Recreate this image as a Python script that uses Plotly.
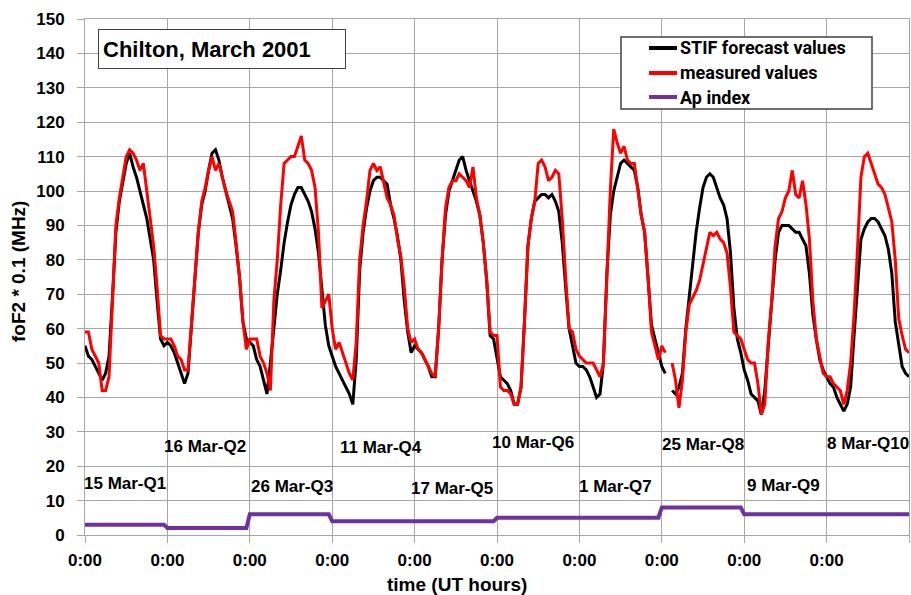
import plotly.graph_objects as go

# ---------------- data ----------------
day_labels = ["15 Mar-Q1", "16 Mar-Q2", "26 Mar-Q3", "11 Mar-Q4", "17 Mar-Q5",
              "10 Mar-Q6", "1 Mar-Q7", "25 Mar-Q8", "9 Mar-Q9", "8 Mar-Q10"]

stif_forecast = [
    55, 52, 51, 49, 47, 45, 47, 52, 69, 88, 97, 103, 108, 111, 107, 104, 100, 96, 92, 86, 80, 68, 57, 55,
    56, 55, 53, 50, 47, 44, 47, 60, 75, 88, 96, 100, 106, 111, 112, 109, 104, 100, 96, 92, 84, 75, 62, 57,
    56, 55, 51, 49, 45, 41, 50, 60, 70, 77, 85, 91, 96, 99, 101, 101, 99, 97, 94, 89, 82, 71, 61, 55,
    52, 49, 47, 45, 43, 41, 38, 51, 77, 88, 95, 100, 103, 104, 104, 103, 102, 96, 92, 87, 80, 68, 59, 53,
    55, 54, 53, 51, 49, 46, 46, 60, 80, 93, 100, 103, 106, 109, 110, 106, 103, 100, 97, 93, 85, 74, 58, 57,
    51, 46, 45, 44, 42, 38, 38, 43, 62, 84, 92, 97, 98, 99, 99, 98, 99, 97, 94, 85, 72, 60, 55, 50,
    49, 49, 48, 46, 43, 40, 41, 50, 76, 93, 100, 104, 108, 109, 108, 107, 106, 101, 93, 88, 75, 61, 57, 53,
    49, 47, None, 42, 41, 43, 47, 60, 69, 79, 88, 95, 101, 104, 105, 104, 101, 98, 96, 92, 82, 66, 57, 53,
    48, 45, 41, 40, 39, 35, 42, 55, 67, 80, 88, 90, 90, 90, 89, 88, 88, 86, 84, 76, 64, 57, 51, 48,
    46, 44, 43, 40, 38, 36, 38, 43, 58, 73, 86, 89, 91, 92, 92, 91, 89, 87, 83, 76, 62, 55, 49, 47,
    46,
]

measured = [
    59, 59, 54, 52, 50, 42, 42, 46, 69, 90, 98, 104, 110, 112, 111, 109, 106, 108, 100, 92, 84, 72, 58, 57,
    57, 57, 55, 52, 51, 48, 48, 62, 75, 88, 97, 101, 106, 110, 106, 108, 104, 100, 97, 94, 85, 75, 62, 54,
    57, 57, 57, 52, 50, 47, 42, 68, 80, 96, 108, 109, 110, 110, 113, 116, 109, 108, 106, 101, 88, 66, 68, 70,
    60, 54, 56, 53, 50, 47, 45, 56, 80, 90, 97, 106, 108, 106, 107, 102, 98, 96, 93, 86, 81, 72, 60, 56,
    57, 54, 53, 51, 49, 47, 46, 60, 80, 95, 101, 103, 103, 105, 104, 103, 101, 107, 98, 93, 85, 74, 59, 58,
    58, 43, 42, 42, 41, 38, 38, 43, 62, 84, 92, 97, 108, 109, 107, 103, 104, 106, 105, 92, 75, 60, 59, 54,
    52, 51, 50, 50, 50, 48, 46, 50, 76, 100, 118, 114, 111, 113, 109, 108, 108, 100, 93, 88, 75, 59, 55, 51,
    55, 53, None, 50, 45, 37, 45, 59, 67, 69, 71, 74, 79, 83, 88, 87, 88, 86, 85, 82, 72, 59, 58, 57,
    54, 51, 50, 50, 44, 35, 38, 56, 68, 84, 92, 94, 98, 100, 106, 99, 98, 103, 96, 86, 68, 57, 52, 47,
    46, 46, 44, 43, 42, 38, 42, 50, 64, 83, 104, 110, 111, 108, 105, 102, 101, 99, 95, 91, 80, 63, 58, 54,
    53,
]

ap_daily = [3, 2, 6, 4, 4, 5, 5, 8, 6, 6]

hours = list(range(len(stif_forecast)))           # UT hours, 0 .. 240
ap_index = [ap_daily[min(h // 24, len(ap_daily) - 1)] for h in hours]

tick_vals = list(range(0, 241, 24))
tick_text = ["0:00"] * 10 + [""]

series_names = ["STIF forecast values", "measured values", "Ap index"]
series_colors = ["#000000", "#ff0000", "#7030a0"]

# label anchor positions (hours, value units)
label_x = [0.0, 22.4, 47.8, 73.7, 94.4, 118, 143.3, 167.5, 192.2, 215.5]
label_y = [15.1, 25.6, 14.0, 25.3, 13.6, 27.0, 14.0, 26.2, 14.5, 26.7]

# ---------------- figure ----------------
W, H = 911, 595
ML, MR, MT, MB = 85, 2, 19, 60
PW = W - ML - MR
PH = H - MT - MB

def px_x(x):
    return (x - ML) / PW

def px_y(y):
    return (H - MB - y) / PH

FONT = "Liberation Sans, Arial, sans-serif"
LEGFONT = "Roboto, Lato, sans-serif"
GRID = "#a6a6a6"

fig = go.Figure()
fig.add_trace(go.Scatter(x=hours, y=stif_forecast, mode="lines", name=series_names[0],
                         line=dict(color=series_colors[0], width=3), connectgaps=False,
                         showlegend=False))
fig.add_trace(go.Scatter(x=hours, y=measured, mode="lines", name=series_names[1],
                         line=dict(color=series_colors[1], width=3), connectgaps=False,
                         showlegend=False))
fig.add_trace(go.Scatter(x=hours, y=ap_index, mode="lines", name=series_names[2],
                         line=dict(color=series_colors[2], width=4), showlegend=False))

annotations = []
shapes = []
for i, (t, x, y) in enumerate(zip(day_labels, label_x, label_y)):
    annotations.append(dict(x=x, y=y, xref="x", yref="y", text="<b>" + t + "</b>",
                            showarrow=False, xanchor="left", yanchor="middle",
                            xshift=-3 if i == 0 else 0,
                            font=dict(family=FONT, size=17, color="#000000")))

# chart title box
annotations.append(dict(x=px_x(98), y=px_y(29), xref="paper", yref="paper",
                        text="<b>Chilton, March 2001</b>", showarrow=False,
                        xanchor="left", yanchor="top", align="left",
                        width=238, height=30, borderpad=4,
                        bgcolor="#ffffff", bordercolor="#404040", borderwidth=1,
                        font=dict(family=FONT, size=22, color="#000000")))
# axis titles
annotations.append(dict(x=px_x(457), y=px_y(584), xref="paper", yref="paper",
                        text="<b>time (UT hours)</b>", showarrow=False,
                        xanchor="center", yanchor="middle",
                        font=dict(family=FONT, size=19, color="#000000")))
annotations.append(dict(x=px_x(18), y=px_y(272), xref="paper", yref="paper",
                        text="<b>foF2 * 0.1 (MHz)</b>", showarrow=False, textangle=-90,
                        xanchor="center", yanchor="middle",
                        font=dict(family=FONT, size=19, color="#000000")))

# legend box
shapes.append(dict(type="rect", xref="paper", yref="paper",
                   x0=px_x(621), x1=px_x(872), y0=px_y(109), y1=px_y(37),
                   line=dict(color="#404040", width=1.5), fillcolor="#ffffff", layer="above"))
for name, col, ry in zip(series_names, series_colors, [48, 73, 97]):
    shapes.append(dict(type="line", xref="paper", yref="paper",
                       x0=px_x(649), x1=px_x(677), y0=px_y(ry), y1=px_y(ry),
                       line=dict(color=col, width=4), layer="above"))
    annotations.append(dict(x=px_x(678), y=px_y(ry), xref="paper", yref="paper",
                            text="<b>" + name + "</b>", showarrow=False,
                            xanchor="left", yanchor="middle",
                            font=dict(family=LEGFONT, size=18, color="#000000")))

fig.update_layout(
    width=W, height=H,
    margin=dict(l=ML, r=MR, t=MT, b=MB, pad=0),
    paper_bgcolor="#ffffff", plot_bgcolor="#ffffff",
    font=dict(family=FONT, size=17, color="#000000"),
    showlegend=False,
    annotations=annotations,
    shapes=shapes,
)
fig.update_xaxes(range=[0, 240], tickmode="array", tickvals=tick_vals, ticktext=tick_text,
                 showgrid=True, gridcolor=GRID, gridwidth=1,
                 ticks="outside", ticklen=7, tickcolor=GRID, tickwidth=1,
                 showline=True, linecolor=GRID, linewidth=1, mirror=True,
                 zeroline=False, tickfont=dict(family=FONT, size=17, weight="bold"),
                 ticklabelstandoff=3)
fig.update_yaxes(range=[0, 150], tickmode="linear", tick0=0, dtick=10,
                 showgrid=True, gridcolor=GRID, gridwidth=1,
                 ticks="outside", ticklen=7, tickcolor=GRID, tickwidth=1,
                 showline=True, linecolor=GRID, linewidth=1, mirror=True,
                 zeroline=False, tickfont=dict(family=FONT, size=17, weight="bold"),
                 ticklabelstandoff=9)

fig.write_html("out.html", config={"displayModeBar": False},
               post_script="document.body.style.margin='0';document.body.style.overflow='hidden';")
